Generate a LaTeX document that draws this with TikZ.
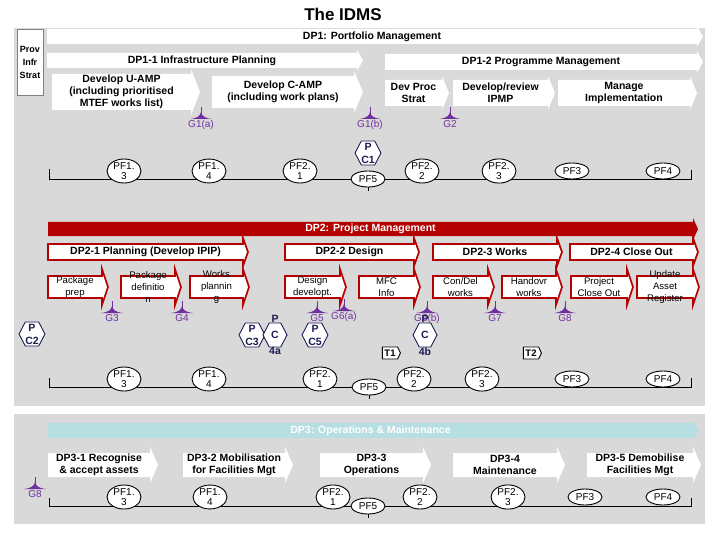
\documentclass[tikz,border=0pt]{standalone}
\usepackage{fontspec}
\setmainfont{Liberation Sans}
\usetikzlibrary{shapes.geometric,shapes.symbols}

\definecolor{panelgray}{RGB}{217,217,217}
\definecolor{dpred}{RGB}{180,0,0}
\definecolor{dpteal}{RGB}{183,222,225}
\definecolor{gatepurple}{RGB}{112,48,160}
\definecolor{hexnavy}{RGB}{28,28,84}

\newcommand{\headext}{5}
\newcommand{\tiplen}{8}
% block arrow: shape style, text style, name, x0, y0, x1, y1, text
\newcommand{\procarrow}[8]{%
  \path[#1] (#4,#5) -- (#6,#5) -- (#6,{#5-\headext})
    -- ({#6+\tiplen},{(#5+#7)/2}) -- (#6,{#7+\headext}) -- (#6,#7) -- (#4,#7) -- cycle;
  \node[#2] (#3) at ({(#4+#6)/2},{(#5+#7)/2}) {#8};
}

\tikzset{
  whitearr/.style={fill=white},
  redbanner/.style={fill=dpred},
  redarr/.style={fill=white,draw=dpred,line width=1.7pt},
  tealbanner/.style={fill=dpteal},
  btxt/.style={font=\bfseries\fontsize{10.5}{12}\selectfont,align=center,inner sep=0pt},
  wtxt/.style={btxt,text=white},
  rtxt/.style={font=\fontsize{9.6}{12}\selectfont,align=center,inner sep=0pt},
  provbox/.style={draw=gray,fill=white,minimum width=26pt,minimum height=66pt,inner sep=0pt,
    font=\bfseries\fontsize{9}{13}\selectfont,align=center},
  pf/.style={ellipse,draw,fill=white,line width=0.9pt,minimum width=34pt,minimum height=16pt,
    inner sep=0pt,font=\fontsize{10}{10}\selectfont,align=center},
  hexa/.style={signal,signal to=east and west,signal pointer angle=125,draw=hexnavy,fill=white,
    line width=0.9pt,minimum width=24pt,minimum height=24pt,inner sep=0pt,
    text=hexnavy,font=\bfseries\fontsize{10.5}{13}\selectfont,align=center},
  hexlbl/.style={inner sep=0pt,text=hexnavy,font=\bfseries\fontsize{10.5}{12}\selectfont},
  tbox/.style={signal,signal to=east,signal pointer angle=130,draw,fill=white,line width=0.9pt,
    minimum width=18pt,minimum height=12pt,inner sep=1pt,font=\bfseries\fontsize{9.5}{10}\selectfont},
  tline/.style={line width=0.8pt},
  gatelbl/.style={inner sep=1pt,text=gatepurple,font=\fontsize{10}{11}\selectfont},
  pics/gate/.style={code={
    \draw[gatepurple,line width=0.8pt] (0,0) -- (0,12);
    \fill[gatepurple] (-11,12) .. controls (-3,11) and (-1,9) .. (0,5)
      .. controls (1,9) and (3,11) .. (11,12) -- cycle;
    \node[gatelbl,anchor=north] (-lbl) at (0,12) {#1};
  }}
}

\begin{document}
\begin{tikzpicture}[x=1pt,y=-1pt]
\useasboundingbox (0,0) rectangle (720,540);
\node[font=\bfseries\fontsize{17}{20}\selectfont,inner sep=0pt] (title) at (343,14) {The IDMS};

% background panels
\fill[panelgray] (14,28) rectangle (705,406);
\fill[panelgray] (14,414) rectangle (705,524);

% DP1
\node[provbox] (prov) at (30,62) {Prov\\Infr\\Strat};
\renewcommand{\headext}{3}\renewcommand{\tiplen}{6}
\procarrow{whitearr}{btxt}{dp1}{47}{29}{697}{44}{DP1: Portfolio Management}
\procarrow{whitearr}{btxt}{dp11}{47}{53}{357}{68}{DP1-1 Infrastructure Planning}
\procarrow{whitearr}{btxt}{dp12}{385}{54}{697}{70}{DP1-2 Programme Management}
\renewcommand{\headext}{5}\renewcommand{\tiplen}{9}
\procarrow{whitearr}{btxt}{uamp}{52}{74}{191}{110}{Develop U-AMP\\(including prioritised\\MTEF works list)}
\procarrow{whitearr}{btxt}{camp}{212}{76}{354}{108}{Develop C-AMP\\(including work plans)}
\renewcommand{\headext}{4}\renewcommand{\tiplen}{7}
\procarrow{whitearr}{btxt}{devproc}{385}{80}{442}{106}{Dev Proc\\Strat}
\procarrow{whitearr}{btxt}{ipmp}{453}{80}{548}{106}{Develop/review\\IPMP}
\procarrow{whitearr}{btxt}{manage}{558}{80}{690}{106}{Manage\\Implementation}

\pic (g1a) at (201,107) {gate={G1(a)}};
\pic (g1b) at (370,107) {gate={G1(b)}};
\pic (g2) at (450,107) {gate=G2};

\coordinate (t1a) at (49,169);
\coordinate (t1b) at (691,179);
\coordinate (t1c) at (691,170);
\draw[tline] (t1a) |- (t1b) -- (t1c);
\node[pf] (pf13a) at (124,171) {PF1.\\3};
\node[pf] (pf14a) at (209,171) {PF1.\\4};
\node[pf] (pf21a) at (300,171) {PF2.\\1};
\node[pf] (pf5a) at (368,179) {PF5};
\node[pf] (pf22a) at (422,171) {PF2.\\2};
\node[pf] (pf23a) at (499,171) {PF2.\\3};
\node[pf] (pf3a) at (572,171) {PF3};
\node[pf] (pf4a) at (663,171) {PF4};
\draw[tline] (pf5a.south) -- ++(0,4);
\node[hexa] (pc1) at (368,153) {P\\C1};

% DP2
\renewcommand{\headext}{4}\renewcommand{\tiplen}{5}
\procarrow{redbanner}{wtxt}{dp2}{48}{222}{693}{236}{DP2: Project Management}
\renewcommand{\headext}{6}\renewcommand{\tiplen}{5}
\procarrow{redarr}{btxt}{dp21}{48}{244}{243}{260}{DP2-1 Planning (Develop IPIP)}
\procarrow{redarr}{btxt}{dp22}{285}{244}{414}{260}{DP2-2 Design}
\procarrow{redarr}{btxt}{dp23}{433}{244}{557}{260}{DP2-3 Works}
\procarrow{redarr}{btxt}{dp24}{570}{244}{693}{260}{DP2-4 Close Out}
\renewcommand{\headext}{7}\renewcommand{\tiplen}{6}
\procarrow{redarr}{rtxt}{pkgprep}{48}{276}{102}{298}{Package\\prep}
\procarrow{redarr}{rtxt}{pkgdef}{121}{276}{175}{298}{Package\\definitio\\n}
\procarrow{redarr}{rtxt}{wkplan}{190}{276}{243}{298}{Works\\plannin\\g}
\procarrow{redarr}{rtxt}{desdev}{285}{276}{340}{298}{Design\\developt.}
\procarrow{redarr}{rtxt}{mfc}{359}{276}{414}{298}{MFC\\Info}
\procarrow{redarr}{rtxt}{condel}{433}{276}{488}{298}{Con/Del\\works}
\procarrow{redarr}{rtxt}{handovr}{502}{276}{556}{298}{Handovr\\works}
\procarrow{redarr}{rtxt}{pclose}{571}{276}{627}{298}{Project\\Close Out}
\procarrow{redarr}{rtxt}{asset}{637}{276}{693}{298}{Update\\Asset\\Register}

\pic (g3) at (112,301) {gate=G3};
\pic (g4) at (182,301) {gate=G4};
\pic (g5) at (317,301) {gate=G5};
\pic (g6a) at (344,299) {gate={G6(a)}};
\pic (g6b) at (427,301) {gate={G6(b)}};
\pic (g7) at (495,301) {gate=G7};
\pic (g8a) at (565,301) {gate=G8};

\node[hexa] (pc2) at (32,334) {P\\C2};
\node[hexa] (pc3) at (252,335) {P\\C3};
\node[hexa,label={[hexlbl]above:P},label={[hexlbl]below:4a}] (pc4a) at (275,335) {C};
\node[hexa] (pc5) at (315,335) {P\\C5};
\node[hexa,label={[hexlbl]above:P},label={[hexlbl]below:4b}] (pc4b) at (425,335) {C};
\node[tbox] (t1) at (390,353) {T1};
\node[tbox] (t2) at (531,353) {T2};

\coordinate (t2a) at (49,378);
\coordinate (t2b) at (691,387);
\coordinate (t2c) at (691,378);
\draw[tline] (t2a) |- (t2b) -- (t2c);
\node[pf] (pf13b) at (124,379) {PF1.\\3};
\node[pf] (pf14b) at (209,379) {PF1.\\4};
\node[pf] (pf21b) at (320,379) {PF2.\\1};
\node[pf] (pf5b) at (369,387) {PF5};
\node[pf] (pf22b) at (414,379) {PF2.\\2};
\node[pf] (pf23b) at (482,379) {PF2.\\3};
\node[pf] (pf3b) at (572,379) {PF3};
\node[pf] (pf4b) at (663,379) {PF4};
\draw[tline] (pf5b.south) -- ++(0,4);

% DP3
\renewcommand{\headext}{3}\renewcommand{\tiplen}{6}
\procarrow{tealbanner}{wtxt}{dp3}{48}{423}{693}{438}{DP3: Operations \& Maintenance}
\renewcommand{\headext}{6}\renewcommand{\tiplen}{8}
\procarrow{whitearr}{btxt}{dp31}{48}{453}{150}{477}{DP3-1 Recognise\\\& accept assets}
\procarrow{whitearr}{btxt}{dp32}{183}{453}{285}{477}{DP3-2 Mobilisation\\for Facilities Mgt}
\procarrow{whitearr}{btxt}{dp33}{320}{453}{423}{477}{DP3-3\\Operations}
\procarrow{whitearr}{btxt}{dp34}{453}{453}{557}{477}{DP3-4\\Maintenance}
\procarrow{whitearr}{btxt}{dp35}{587}{453}{693}{477}{DP3-5 Demobilise\\Facilities Mgt}

\pic (g8b) at (35,477) {gate=G8};

\coordinate (t3a) at (49,498);
\coordinate (t3b) at (691,506);
\coordinate (t3c) at (691,498);
\draw[tline] (t3a) |- (t3b) -- (t3c);
\node[pf] (pf13c) at (124,497) {PF1.\\3};
\node[pf] (pf14c) at (210,497) {PF1.\\4};
\node[pf] (pf21c) at (333,497) {PF2.\\1};
\node[pf] (pf5c) at (368,506) {PF5};
\node[pf] (pf22c) at (420,497) {PF2.\\2};
\node[pf] (pf23c) at (508,497) {PF2.\\3};
\node[pf] (pf3c) at (585,497) {PF3};
\node[pf] (pf4c) at (663,497) {PF4};
\draw[tline] (pf5c.south) -- ++(0,4);
\end{tikzpicture}
\end{document}
